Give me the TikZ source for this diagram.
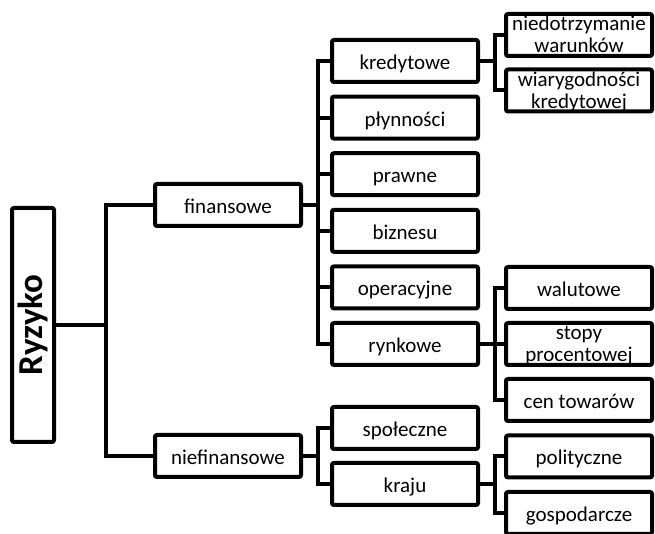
\documentclass[tikz,border=0pt]{standalone}
\usepackage{fontspec}
\setmainfont{Carlito}
\usepackage{tikz}
\usetikzlibrary{positioning}
\tikzset{
  link/.style={line width=2pt, line join=miter},
  riskbox/.style={draw, line width=2pt, rounded corners=1pt, fill=white, minimum width=73pt, minimum height=21pt, inner sep=0pt, align=center, text height=8.5pt, text depth=0pt, font=\fontsize{10.5}{11}\selectfont},
  tworisk/.style={riskbox, text height=18pt, text depth=0pt},
  rootbox/.style={draw, line width=2pt, rounded corners=1pt, fill=white, minimum width=117pt, minimum height=21pt, inner sep=0pt, rotate=90, font=\fontsize{17.5}{20}\selectfont\bfseries}
}
\begin{document}
\begin{tikzpicture}[x=0.5pt, y=-0.5pt]
  \useasboundingbox (0,0) rectangle (655,534);
  % root and first level
  \node[rootbox] (ryzyko) at (33,325) {Ryzyko};
  \node[riskbox] (fin) at (228,205) {finansowe};
  \node[riskbox] (niefin) at (228,456) {niefinansowe};
  % second level
  \node[riskbox] (kred) at (405,61) {kredytowe};
  \node[riskbox] (plyn) at (405,117.6) {płynności};
  \node[riskbox] (prawne) at (405,174.2) {prawne};
  \node[riskbox] (biz) at (405,230.8) {biznesu};
  \node[riskbox] (oper) at (405,287.4) {operacyjne};
  \node[riskbox] (rynk) at (405,344) {rynkowe};
  \node[riskbox] (spol) at (405,428) {społeczne};
  \node[riskbox] (kraj) at (405,484) {kraju};
  % third level
  \node[tworisk] (niedot) at (579,35) {niedotrzymanie\\warunków};
  \node[tworisk] (wiaryg) at (579,90.5) {wiarygodności\\kredytowej};
  \node[riskbox] (walut) at (579,288) {walutowe};
  \node[tworisk] (stopy) at (579,344) {stopy\\procentowej};
  \node[riskbox] (cen) at (579,400) {cen towarów};
  \node[riskbox] (polit) at (579,456.5) {polityczne};
  \node[riskbox] (gosp) at (579,513) {gospodarcze};
  % connectors
  \draw[link] (ryzyko.south) -- ++(50,0) coordinate (b0) |- (fin.west);
  \draw[link] (b0) |- (niefin.west);
  \draw[link] (fin.east) -- ++(15,0) coordinate (b1) |- (kred.west);
  \foreach \n in {plyn,prawne,biz,oper,rynk}
    \draw[link] (b1) |- (\n.west);
  \draw[link] (niefin.east) -- ++(15,0) coordinate (b2) |- (spol.west);
  \draw[link] (b2) |- (kraj.west);
  \draw[link] (kred.east) -- ++(15,0) coordinate (b3) |- (niedot.west);
  \draw[link] (b3) |- (wiaryg.west);
  \draw[link] (rynk.east) -- ++(15,0) coordinate (b4) |- (walut.west);
  \foreach \n in {stopy,cen}
    \draw[link] (b4) |- (\n.west);
  \draw[link] (kraj.east) -- ++(15,0) coordinate (b5) |- (polit.west);
  \draw[link] (b5) |- (gosp.west);
\end{tikzpicture}
\end{document}
